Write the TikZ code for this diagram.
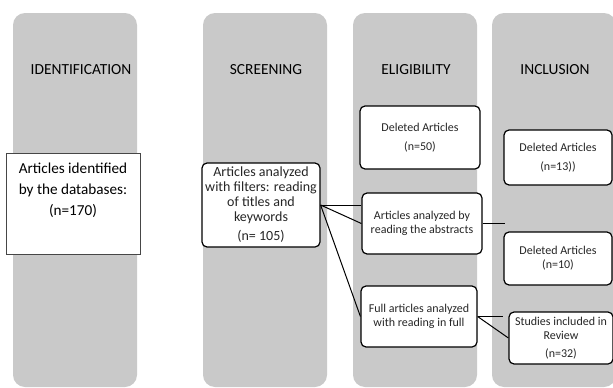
\documentclass[tikz,border=0pt]{standalone}
\usepackage{fontspec}
\setmainfont{Carlito}
\usetikzlibrary{positioning}
\definecolor{band}{RGB}{201, 201, 201}
\definecolor{frame}{RGB}{70, 70, 70}
\definecolor{ink}{RGB}{38, 38, 38}

\begin{document}
\begin{tikzpicture}[
  x=1pt, y=-1pt,
  column/.style={fill=band, rounded corners=12pt},
  head/.style={text=black, font=\fontsize{15.4}{18}\selectfont},
  box/.style={rectangle, draw=black, fill=white, line width=1.2pt, rounded corners=5pt, align=center, inner sep=0pt, text=ink, font=\fontsize{12}{14}\selectfont},
  idbox/.style={rectangle, draw=frame, fill=white, line width=0.8pt, align=center, inner sep=0pt, text=black, font=\fontsize{15.2}{21}\selectfont},
  link/.style={line width=1pt, black}
]
  \path[use as bounding box, clip] (0,0) rectangle (613,388);

  % Columns
  \fill[column] (13,13) rectangle (137,387);
  \fill[column] (203,13) rectangle (327,387);
  \fill[column] (353,13) rectangle (477,387);
  \fill[column] (492,13) rectangle (616,387);

  % Headers
  \node[head] (hid) at (81,70) {IDENTIFICATION};
  \node[head] (hscr) at (266,70) {SCREENING};
  \node[head] (helig) at (416,70) {ELIGIBILITY};
  \node[head] (hincl) at (555,70) {INCLUSION};

  % Nodes
  \node[idbox, minimum width=134pt, minimum height=101pt] (found) at (73,203.5)
    {Articles identified\\by the databases:\\(n=170)\\[8pt]~};
  \node[box, minimum width=118pt, minimum height=84pt, font=\fontsize{14}{15}\selectfont] (filtered) at (261,205)
    {Articles analyzed\\with filters: reading\\of titles and\\keywords\\[4pt](n= 105)};
  \node[box, minimum width=120pt, minimum height=63pt] (del50) at (420,137.5)
    {Deleted Articles\\[5pt](n=50)};
  \node[box, minimum width=120pt, minimum height=61pt] (abstracts) at (422,223.5)
    {Articles analyzed by\\reading the abstracts};
  \node[box, minimum width=116pt, minimum height=61pt] (fulltext) at (419,316.5)
    {Full articles analyzed\\with reading in full};
  \node[box, minimum width=108pt, minimum height=55pt] (del13) at (558,157.5)
    {Deleted Articles\\[5pt](n=13))};
  \node[box, minimum width=108pt, minimum height=53pt] (del10) at (558,258.5)
    {Deleted Articles\\(n=10)};
  \node[box, minimum width=104pt, minimum height=52pt] (included) at (561,338)
    {Studies included in\\Review\\[4pt](n=32)};

  \coordinate (absend) at (505,223.5);
  \coordinate (fullend) at (503,316.5);

  % Paths
  \draw[link] (filtered.east) -- (abstracts.west |- filtered.east);
  \draw[link] (filtered.east) -- (abstracts.west);
  \draw[link] (filtered.east) -- (fulltext.west);
  \draw[link] (abstracts.east) -- (absend);
  \draw[link] (fulltext.east) -- (fullend);
  \draw[link] (fulltext.east) -- (included.west);
\end{tikzpicture}
\end{document}
